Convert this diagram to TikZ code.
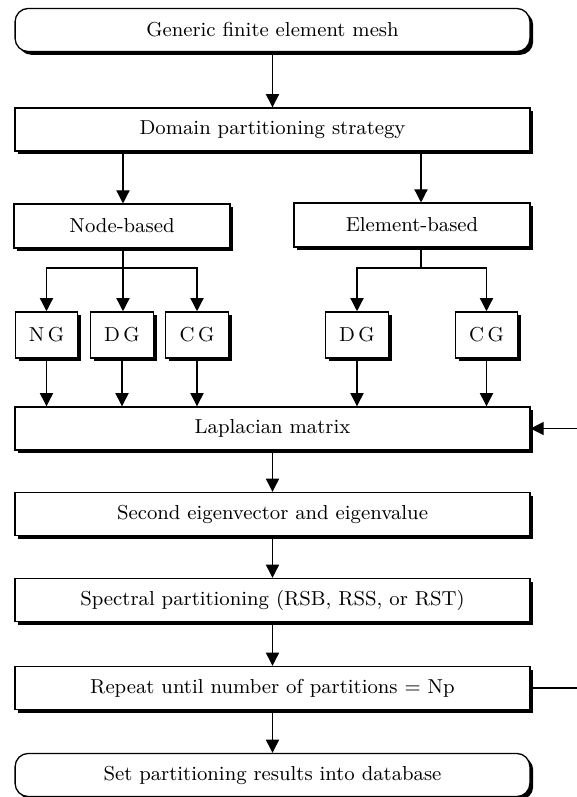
\documentclass[tikz,border=0pt]{standalone}
\usepackage{tikz}
\usetikzlibrary{arrows.meta,positioning,shadows,calc}

\begin{document}
\begin{tikzpicture}[x=0.016cm, y=-0.016cm, font=\fontsize{9.2}{11}\selectfont, line width=0.6pt,
    box/.style={draw, fill=white, align=center, inner sep=2pt, minimum height=0.69cm,
      drop shadow={shadow xshift=1.5pt, shadow yshift=-1.5pt, fill=black, opacity=1}},
    wide/.style={box, minimum width=8.24cm},
    term/.style={wide, rounded corners=6pt},
    small/.style={box, minimum width=1cm, minimum height=0.74cm},
    arr/.style={-{Triangle[length=6pt, width=6pt]}}]
  \useasboundingbox (0,0) rectangle (577,797);
  % main column
  \node[term] (mesh) at (272.5,30) {Generic finite element mesh};
  \node[wide] (domain) at (272.5,129.5) {Domain partitioning strategy};
  \node[box, minimum width=3.46cm, minimum height=0.7cm] (nodeb) at (122,226) {Node-based};
  \node[box, minimum width=3.78cm, minimum height=0.7cm] (elemb) at (412,225) {Element-based};
  % graph boxes
  \node[small] (ng) at (46.5,335) {N\,G};
  \node[small] (dg) at (122,335) {D\,G};
  \node[small] (cg) at (197,335) {C\,G};
  \node[small] (dge) at (357,335) {D\,G};
  \node[small] (cge) at (486.5,335) {C\,G};
  \node[wide] (lap) at (272.5,428.5) {Laplacian matrix};
  \node[wide] (eig) at (272.5,514) {Second eigenvector and eigenvalue};
  \node[wide] (spec) at (272.5,600) {Spectral partitioning (RSB, RSS, or RST)};
  \node[wide] (rep) at (272.5,688) {Repeat until number of partitions = Np};
  \node[term] (db) at (272.5,775) {Set partitioning results into database};
  % junctions
  \coordinate (nj) at (123,268);
  \coordinate (ej) at (421,268);
  \coordinate (out) at (577,688);
  \coordinate (back) at (577,428.5);
  \draw[arr] (mesh) -- (domain);
  \draw[arr] (domain.south -| nj) -- (nj |- nodeb.north);
  \draw[arr] (domain.south -| ej) -- (ej |- elemb.north);
  \draw (nodeb.south -| nj) -- (nj);
  \draw (elemb.south -| ej) -- (ej);
  \draw[arr] (nj) -| (ng);
  \draw[arr] (nj) -- (nj |- dg.north);
  \draw[arr] (nj) -| (cg);
  \draw[arr] (ej) -| (dge);
  \draw[arr] (ej) -| (cge);
  \foreach \g in {ng,dg,cg,dge,cge}
    \draw[arr] (\g) -- (\g |- lap.north);
  \draw[arr] (lap) -- (eig);
  \draw[arr] (eig) -- (spec);
  \draw[arr] (spec) -- (rep);
  \draw[arr] (rep) -- (db);
  \draw (rep.east) -- (out);
  \draw[arr] (back) -- (lap.east);
\end{tikzpicture}
\end{document}
